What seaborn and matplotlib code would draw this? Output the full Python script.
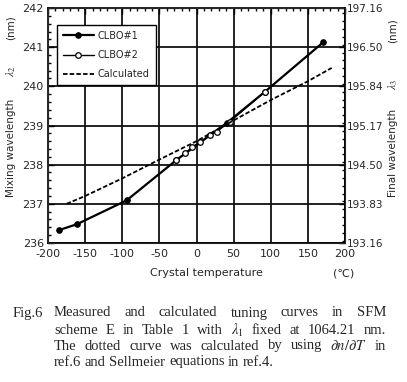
import re
import numpy as np
import pandas as pd
import matplotlib
matplotlib.use("Agg")
import matplotlib.pyplot as plt
import seaborn as sns
from matplotlib.ticker import MultipleLocator

# ---- data ----
clbo1_temp = [-185, -161, -94, -27, 41, 92, 171]
clbo1_wl = [236.33, 236.48, 237.09, 238.12, 239.07, 239.86, 241.13]

clbo2_temp = [-27, -15, -6, 5, 18, 27, 45, 92]
clbo2_wl = [238.12, 238.29, 238.45, 238.58, 238.75, 238.84, 239.10, 239.86]

calc_temp = [-175, -150, -100, -50, 0, 50, 100, 150, 182]
calc_wl = [237.00, 237.20, 237.65, 238.13, 238.60, 239.13, 239.65, 240.13, 240.47]

x_ticks = [-200, -150, -100, -50, 0, 50, 100, 150, 200]
left_ticks = [236, 237, 238, 239, 240, 241, 242]
right_tick_labels = ["193.16", "193.83", "194.50", "195.17", "195.84", "196.50", "197.16"]

caption_lines = [
    "Measured and calculated tuning curves in SFM",
    "scheme E in Table 1 with $\\lambda_1$ fixed at 1064.21 nm.",
    "The dotted curve was calculated by using $\\partial n/\\partial T$ in",
    "ref.6 and Sellmeier equations in ref.4.",
]

W, H = 407, 382
sns.set_style("white")
plt.rcParams["font.family"] = ["DejaVu Sans"]
plt.rcParams["mathtext.fontset"] = "stix"

fig = plt.figure(figsize=(W / 100, H / 100), dpi=100)
ax = fig.add_axes([48 / W, 1 - 243 / H, (345 - 48) / W, (243 - 8) / H])

df1 = pd.DataFrame({"t": clbo1_temp, "w": clbo1_wl})
df2 = pd.DataFrame({"t": clbo2_temp, "w": clbo2_wl})
dfc = pd.DataFrame({"t": calc_temp, "w": calc_wl})

sns.lineplot(data=df1, x="t", y="w", ax=ax, color="black", lw=1.6,
             marker="o", markersize=4, markeredgecolor="black",
             markerfacecolor="black", label="CLBO#1", sort=False)
sns.lineplot(data=df2, x="t", y="w", ax=ax, color="black", lw=1.0,
             marker="o", markersize=4, markeredgecolor="black",
             markerfacecolor="white", markeredgewidth=0.9,
             label="CLBO#2", sort=False)
sns.lineplot(data=dfc, x="t", y="w", ax=ax, color="black", lw=1.3,
             linestyle=(0, (2.5, 1.2)), label="Calculated", sort=False)

ax.set_xlim(-200, 200)
ax.set_ylim(236, 242)
ax.set_xticks(x_ticks)
ax.set_xticklabels([str(v) for v in x_ticks])
ax.set_yticks(left_ticks)
ax.xaxis.set_minor_locator(MultipleLocator(10))
ax.yaxis.set_minor_locator(MultipleLocator(0.2))
ax.grid(True, which="major", color="#111111", lw=1.3)
for s in ax.spines.values():
    s.set_color("black")
    s.set_linewidth(1.2)
ax.tick_params(which="both", direction="in", top=True, right=False,
               color="black", labelsize=8)
ax.tick_params(axis="x", pad=4)
ax.tick_params(axis="y", pad=3)
ax.tick_params(which="major", length=4, width=1)
ax.tick_params(which="minor", length=2.5, width=1)
ax.set_xlabel("")
ax.set_ylabel("")

ax2 = ax.twinx()
ax2.set_ylim(193.16, 197.16)
ax2.set_yticks(np.linspace(193.16, 197.16, len(right_tick_labels)))
ax2.set_yticklabels(right_tick_labels)
ax2.yaxis.set_minor_locator(MultipleLocator(4.0 / 30))
ax2.tick_params(which="both", direction="in", labelsize=7.5, color="black", pad=1.5)
ax2.tick_params(which="major", length=4, width=1)
ax2.tick_params(which="minor", length=2.5, width=1)
ax2.set_ylabel("")
ax2.grid(False)

# axis titles (pieces placed as in the reference)
fs_lab = 7.5
fig.text(11 / W, 1 - 148 / H, "Mixing wavelength", rotation=90, ha="center",
         va="center", fontsize=fs_lab)
fig.text(11 / W, 1 - 71 / H, "$\\lambda_2$", rotation=90, ha="center",
         va="center", fontsize=fs_lab + 1)
fig.text(11 / W, 1 - 28 / H, "(nm)", rotation=90, ha="center",
         va="center", fontsize=fs_lab)
fig.text(393 / W, 1 - 153 / H, "Final wavelength", rotation=90, ha="center",
         va="center", fontsize=fs_lab)
fig.text(393 / W, 1 - 84 / H, "$\\lambda_3$", rotation=90, ha="center",
         va="center", fontsize=fs_lab + 1)
fig.text(393 / W, 1 - 31 / H, "(nm)", rotation=90, ha="center",
         va="center", fontsize=fs_lab)

leg = ax.legend(loc="upper left", bbox_to_anchor=(9 / 297, 1 - 17 / 235),
                borderaxespad=0, fontsize=7, frameon=True, fancybox=False,
                edgecolor="black", handlelength=3.2, borderpad=0.6,
                labelspacing=0.95, handletextpad=0.4)
leg.get_frame().set_linewidth(1.0)
leg.get_frame().set_alpha(1)

fig.text(206 / W, 1 - 273 / H, "Crystal temperature", ha="center",
         va="center", fontsize=8)
fig.text(344 / W, 1 - 273 / H, "(\u2103)", ha="center", va="center",
         fontsize=8)

# caption (justified like the printed figure)
serif = ["Liberation Serif", "DejaVu Serif"]
fs_cap = 10.5
fig.text(13 / W, 1 - 313 / H, "Fig.6", ha="left", va="center",
         fontsize=fs_cap, family=serif)
ys = [313, 330, 346, 362]
renderer = fig.canvas.get_renderer()
for i, (line, y) in enumerate(zip(caption_lines, ys)):
    words = re.findall(r"\$[^$]*\$|\S+", line)
    texts = [fig.text(0, 1 - y / H, w, ha="left", va="center",
                      fontsize=fs_cap, family=serif) for w in words]
    widths = [t.get_window_extent(renderer).width for t in texts]
    x0 = 54.0
    if i < len(caption_lines) - 1:
        gap = (386.0 - x0 - sum(widths)) / (len(words) - 1)
    else:
        gap = 3.6
    x = x0
    for t, wdt in zip(texts, widths):
        t.set_x(x / W)
        x += wdt + gap

fig.savefig("out.png", dpi=100)
